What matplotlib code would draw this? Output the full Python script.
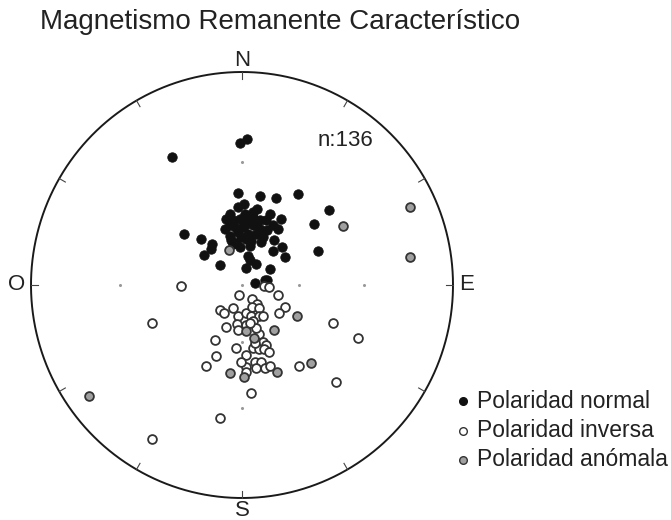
import numpy as np
import matplotlib
matplotlib.use('Agg')
from matplotlib import pyplot as plt

plt.rcParams['font.family'] = ['Liberation Sans', 'DejaVu Sans']

# projected positions on the stereonet (east, north), net radius = NET_R
NET_R = 633

normal_e = [-5, 15, -210, -12, 53, 101, 169, 261, 217, 229,
            -174, -124, -90, -92, -115, -67, -12, 5, 45, -37,
            8, 33, 83, 118, -47, -27, -7, 18, 43, 73,
            93, -37, -22, 3, 33, 53, 75, 108, -52, -12,
            18, 43, -32, -17, 13, 58, 95, 121, 128, 93,
            23, 19, 23, 43, 11, 85, 38, 68, 76, -2,
            33, -37, 8, 63, -7, -27, 28, 53]
normal_n = [422, 435, 381, 272, 264, 260, 270, 224, 182, 100,
            152, 137, 122, 107, 89, 60, 232, 242, 227, 212,
            212, 217, 212, 195, 197, 192, 197, 192, 184, 192,
            177, 177, 172, 172, 177, 167, 162, 167, 167, 157,
            152, 152, 134, 124, 137, 127, 134, 114, 84, 100,
            117, 87, 74, 62, 52, 47, 7, 14, 14, 142,
            202, 147, 177, 142, 112, 122, 132, 192]

inverse_e = [-182, -269, -9, 30, 45, 66, 81, 108, 128, 111,
             -65, -55, -11, 13, 30, 50, 26, 50, 63, -15,
             11, -11, -49, 50, -82, 63, 71, -17, 33, 50,
             65, 81, -77, 13, -107, 11, 38, 58, 68, 85,
             43, 171, 273, 348, 283, 28, -67, -269, 13, 33, 43,
             23, 38, -2, -27]
inverse_n = [-3, -113, -31, -43, -55, -3, -5, -31, -66, -83,
             -73, -83, -93, -83, -66, -68, -93, -91, -93, -115,
             -118, -135, -126, -146, -163, -168, -178, -186, -188, -190,
             -191, -198, -210, -208, -240, -243, -230, -228, -248, -241,
             -248, -241, -113, -158, -288, -321, -395, -458, -258, -108, -128,
             -113, -173, -228, -68]

anomal_e = [503, 303, 505, -39, 165, 95, 13, 36, 206, -37, 5, 105, -459]
anomal_n = [232, 174, 84, 104, -91, -133, -138, -158, -233, -263, -273, -258, -331]

n_total = 136
cardinals = ['N', 'E', 'S', 'O']
legend_labels = ['Polaridad normal', 'Polaridad inversa', 'Polaridad anómala']

W, H = 671, 520
fig = plt.figure(figsize=(W / 100, H / 100), dpi=100)
cx, cy = 242, 285
rx, ry = 211, 213           # circle radius in pixels (slightly taller than wide)
sx, sy = NET_R / rx, NET_R / ry
left_px, right_px, top_px, bot_px = 240, 240, 240, 235
ax = fig.add_axes([(cx - left_px) / W, (H - cy - bot_px) / H,
                   (left_px + right_px) / W, (top_px + bot_px) / H])
ax.set_xlim(-left_px * sx, right_px * sx)
ax.set_ylim(-bot_px * sy, top_px * sy)
ax.axis('off')

# primitive circle and rim ticks
t = np.linspace(0, 2 * np.pi, 400)
ax.plot(NET_R * np.cos(t), NET_R * np.sin(t), color='#1a1a1a', lw=1.4, zorder=1)
for az in range(0, 360, 30):
    a = np.radians(az)
    ax.plot([np.sin(a) * NET_R, np.sin(a) * (NET_R - 21)],
            [np.cos(a) * NET_R, np.cos(a) * (NET_R - 21)],
            color='#444444', lw=0.8, zorder=1)

# small grid dots at inclination 60 and 30
for inc in [60, 30]:
    r = NET_R * np.tan(np.radians((90 - inc) / 2))
    for az in [0, 90, 180, 270]:
        a = np.radians(az)
        ax.plot(np.sin(a) * r, np.cos(a) * r, 'o', ms=1.2, color='#999999', zorder=1)
ax.plot(0, 0, 'o', ms=1.2, color='#999999', zorder=1)

ax.scatter(normal_e, normal_n, s=46, c='#111111', edgecolors='#111111',
           linewidths=0.6, zorder=3)
ax.scatter(inverse_e, inverse_n, s=40, c='white', edgecolors='#333333',
           linewidths=1.3, zorder=4)
ax.scatter(anomal_e, anomal_n, s=40, c='#a0a0a0', edgecolors='#333333',
           linewidths=1.3, zorder=4)

# cardinal labels, 225 px from centre
off = 225
lab_kw = dict(ha='center', va='center', fontsize=16, color='#222222')
ax.text(0, off * sy, cardinals[0], **lab_kw)
ax.text(off * sx, 0, cardinals[1], **lab_kw)
ax.text(0, -off * sy, cardinals[2], **lab_kw)
ax.text(-off * sx, 0, cardinals[3], **lab_kw)

ax.text((318 - cx) * sx, (cy - 140) * sy, f'n:{n_total}', ha='left', va='center',
        fontsize=16, color='#222222')

fig.text(40 / W, 1 - 22 / H, 'Magnetismo Remanente Característico',
         ha='left', va='center', fontsize=20, color='#222222')

# legend
styles = [('#111111', '#111111'), ('white', '#333333'), ('#a0a0a0', '#333333')]
for i, (lab, (fc, ec)) in enumerate(zip(legend_labels, styles)):
    y = 1 - (401 + 29.5 * i) / H
    fig.add_artist(plt.Line2D([463 / W], [y], marker='o', ms=5.5, mfc=fc, mec=ec,
                              mew=1.0, linestyle='none', transform=fig.transFigure))
    fig.text(477 / W, y, lab, ha='left', va='center', fontsize=16.5, color='#222222')

fig.savefig('out.png', dpi=100)
